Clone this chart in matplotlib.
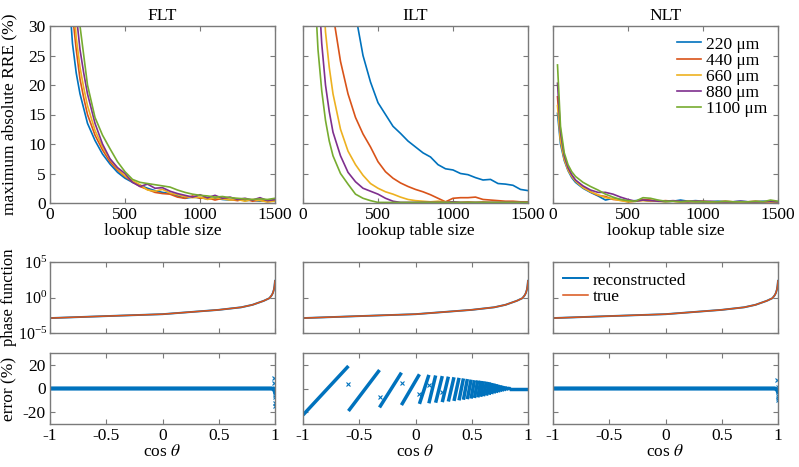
import matplotlib

matplotlib.use("Agg")
import matplotlib.pyplot as plt
import numpy as np

plt.rcParams["font.family"] = ["Liberation Serif", "DejaVu Serif"]
plt.rcParams["mathtext.fontset"] = "stix"
plt.rcParams["font.size"] = 12.5
plt.rcParams["axes.unicode_minus"] = False

COLORS = ["#0072BD", "#D95319", "#EDB120", "#7E2F8E", "#77AC30"]
THICKNESS = ["220 μm", "440 μm", "660 μm", "880 μm", "1100 μm"]
METHODS = ["FLT", "ILT", "NLT"]

# --- top row: maximum absolute RRE (%) vs lookup table size ---
FLT_SIZE = [100, 125, 150, 175, 200, 225, 250, 300, 350, 400, 450, 500, 550, 600,
            650, 700, 750, 800, 850, 900, 950, 1000, 1050, 1100, 1150, 1200,
            1250, 1300, 1350, 1400, 1450, 1500]
FLT_220 = [50, 36, 27, 22, 18.5, 16, 13.5, 10.6, 8.3, 6.6, 5.2, 4.2, 3.5, 3.0,
           2.5, 2.1, 1.8, 1.6, 1.2, 0.8, 1.0, 0.9, 0.7, 0.8, 0.6, 0.5,
           0.7, 0.4, 0.5, 0.3, 0.5, 0.3]
FLT_440 = [55, 42, 32, 26, 21, 17.8, 15, 11.5, 9.0, 7.0, 5.6, 4.5, 3.6, 2.8,
           2.3, 1.8, 1.6, 1.5, 1.0, 0.8, 1.2, 0.8, 0.9, 0.5, 0.8, 0.6,
           0.4, 0.7, 0.3, 0.5, 0.2, 0.4]
FLT_660 = [60, 46, 36, 28, 23, 19.5, 16.5, 12.3, 9.5, 7.4, 5.8, 4.6, 3.8, 3.1,
           2.2, 2.0, 2.3, 1.7, 1.4, 1.1, 0.9, 1.0, 0.6, 0.9, 0.7, 0.5,
           0.6, 0.3, 0.6, 0.4, 0.2, 0.3]
FLT_880 = [65, 50, 40, 32, 26, 22, 18.5, 13.5, 10.0, 7.5, 6.0, 5.0, 3.5, 2.8,
           3.2, 2.5, 2.6, 2.0, 1.6, 1.3, 1.0, 1.4, 0.9, 1.3, 0.8, 1.0,
           0.6, 0.8, 0.5, 0.9, 0.4, 0.6]
FLT_1100 = [75, 58, 45, 36, 30, 25, 20, 14.5, 11.5, 9.2, 7.0, 5.3, 4.0, 3.5,
            3.3, 3.1, 2.9, 2.7, 2.2, 1.8, 1.5, 1.3, 1.2, 1.0, 1.1, 0.9,
            0.8, 0.7, 0.6, 0.7, 0.6, 0.8]

ILT_SIZE = [50, 75, 100, 125, 150, 175, 200, 250, 300, 350, 400, 450, 500, 550, 600,
            650, 700, 750, 800, 850, 900, 950, 1000, 1050, 1100, 1150, 1200, 1250,
            1300, 1350, 1400, 1450, 1500]
ILT_220 = [400, 280, 200, 150, 120, 95, 80, 60, 45, 32, 25, 20.5, 17, 15, 13,
           11.8, 10.5, 9.5, 8.5, 7.8, 6.5, 5.8, 5.6, 5.0, 4.8, 4.3, 3.9, 4.0,
           3.3, 3.2, 3.0, 2.3, 2.1]
ILT_440 = [180, 120, 90, 65, 50, 40, 32, 24, 18.5, 14.5, 11.7, 9.5, 7.0, 5.3, 4.2,
           3.4, 2.8, 2.3, 1.9, 1.4, 0.8, 0.2, 0.8, 0.9, 0.9, 1.0, 0.6, 0.5,
           0.4, 0.3, 0.3, 0.2, 0.2]
ILT_660 = [110, 75, 55, 40, 29, 23, 18.5, 12.5, 8.8, 6.5, 4.7, 3.3, 2.5, 1.9, 1.5,
           1.0, 0.6, 0.4, 0.3, 0.2, 0.3, 0.2, 0.2, 0.1, 0.2, 0.1, 0.2, 0.1,
           0.1, 0.1, 0.1, 0.1, 0.1]
ILT_880 = [80, 52, 38, 27, 20, 15.5, 12, 8.0, 5.2, 3.6, 2.5, 2.0, 1.5, 0.8, 0.3,
           0.1, 0.1, 0.1, 0.1, 0.1, 0.1, 0.1, 0.2, 0.1, 0.1, 0.1, 0.1, 0.1,
           0.1, 0.1, 0.1, 0.1, 0.1]
ILT_1100 = [60, 38, 26, 19, 14, 10.5, 8.0, 5.0, 3.2, 1.5, 0.8, 0.4, 0.1, 0.1, 0.1,
            0.1, 0.1, 0.1, 0.1, 0.1, 0.1, 0.1, 0.1, 0.1, 0.1, 0.1, 0.1, 0.1,
            0.1, 0.1, 0.1, 0.1, 0.1]

NLT_SIZE = [30, 50, 75, 100, 125, 150, 200, 250, 300, 350, 400, 450, 500, 550,
            600, 650, 700, 750, 800, 850, 900, 950, 1000, 1050, 1100, 1150,
            1200, 1250, 1300, 1350, 1400, 1450, 1500]
NLT_220 = [15.2, 10, 7.2, 5.5, 4.3, 3.5, 2.5, 1.8, 1.2, 0.5, 0.8, 0.6, 0.3, 0.4,
           0.5, 0.3, 0.4, 0.2, 0.3, 0.5, 0.3, 0.4, 0.3, 0.2, 0.3, 0.2,
           0.2, 0.3, 0.2, 0.2, 0.3, 0.2, 0.2]
NLT_440 = [18, 11, 7.6, 5.8, 4.6, 3.8, 2.7, 1.9, 1.3, 1.1, 0.6, 0.5, 0.2, 0.3,
           0.6, 0.5, 0.3, 0.4, 0.3, 0.2, 0.3, 0.2, 0.3, 0.2, 0.2, 0.3,
           0.2, 0.2, 0.2, 0.3, 0.2, 0.2, 0.2]
NLT_660 = [16.5, 10.5, 7.4, 5.6, 4.5, 3.7, 2.6, 1.9, 1.4, 0.9, 0.7, 0.4, 0.2, 0.3,
           0.4, 0.3, 0.3, 0.2, 0.3, 0.2, 0.2, 0.3, 0.2, 0.2, 0.2, 0.2,
           0.2, 0.2, 0.2, 0.2, 0.2, 0.2, 0.2]
NLT_880 = [20.3, 12, 8.0, 6.0, 4.8, 3.9, 2.9, 2.2, 1.8, 1.8, 1.5, 1.0, 0.6, 0.3,
           0.5, 0.4, 0.3, 0.3, 0.4, 0.3, 0.2, 0.3, 0.2, 0.3, 0.2, 0.2,
           0.2, 0.3, 0.2, 0.2, 0.2, 0.3, 0.2]
NLT_1100 = [23.4, 13, 8.5, 6.5, 5.3, 4.5, 3.5, 2.8, 2.2, 1.5, 1.0, 0.6, 0.4, 0.3,
            0.9, 0.8, 0.5, 0.3, 0.3, 0.2, 0.3, 0.2, 0.2, 0.2, 0.2, 0.3,
            0.2, 0.2, 0.2, 0.3, 0.2, 0.5, 0.3]

RRE = {
    "FLT": (FLT_SIZE, [FLT_220, FLT_440, FLT_660, FLT_880, FLT_1100]),
    "ILT": (ILT_SIZE, [ILT_220, ILT_440, ILT_660, ILT_880, ILT_1100]),
    "NLT": (NLT_SIZE, [NLT_220, NLT_440, NLT_660, NLT_880, NLT_1100]),
}

# --- middle row: phase function (log10 values) ---
PHASE_COS = [-1, -0.5, 0, 0.5, 0.7, 0.8, 0.9, 0.95, 0.97, 0.98, 0.99, 0.995, 1.0]
PHASE_LOG10 = [-2.9, -2.62, -2.35, -1.74, -1.38, -1.03, -0.47, -0.1, 0.3, 0.6, 1.1, 1.6, 2.35]

# --- bottom row: error (%) ---
# FLT / NLT: flat at zero, scatter near cos = 1
FLAT_COS = [-1, 0.97, 0.985, 0.995, 1.0]
FLAT_ERR = [0, 0, -0.5, -1.5, -3]
FLT_OUT_COS = [0.995, 0.995, 0.997, 0.997, 0.998, 0.999, 1.0]
FLT_OUT_ERR = [8.5, 4.6, 0.4, -5.5, -7, -12, -14.5]
NLT_OUT_COS = [0.995, 0.997, 0.998, 0.999, 1.0]
NLT_OUT_ERR = [7, 1.5, -6, -8, -10]

# ILT: sawtooth, one tooth between consecutive edges, rising from low to high
ILT_EDGES = [-1, -0.596, -0.32, -0.125, 0.035, 0.119, 0.179, 0.238, 0.292, 0.342,
             0.387, 0.426, 0.461, 0.494, 0.524, 0.554, 0.580, 0.604, 0.631, 0.655,
             0.677, 0.698, 0.718, 0.737, 0.755, 0.772, 0.789, 0.805, 0.82, 0.835, 0.85]
ILT_LOW = [-22.4, -19, -16, -14, -13, -12.5, -12, -11.5, -11, -10.5,
           -10, -9.5, -9, -8.5, -8, -7.5, -7, -6.5, -6, -5.3,
           -4.7, -4.1, -3.6, -3.1, -2.6, -2.2, -1.8, -1.4, -1.1, -0.8]
ILT_HIGH = [19, 15.6, 13.4, 12, 11.5, 11, 10.5, 10, 9.5, 9,
            8.5, 8, 7.5, 7, 6.8, 6.5, 6.2, 5.8, 5.4, 4.8,
            4.3, 3.8, 3.3, 2.8, 2.4, 2.0, 1.6, 1.3, 1.0, 0.7]
ILT_OUT_COS = [-0.596, -0.32, -0.12, 0.035, 0.238, 0.12]
ILT_OUT_ERR = [3.8, -7, 4.4, -4.4, -3, 3]

SPINE = "#7a7a7a"
YLAB_X = -0.145


def style(ax):
    for s in ax.spines.values():
        s.set_color(SPINE)
        s.set_linewidth(1.0)
    ax.tick_params(direction="in", top=True, right=True, length=3.5,
                   color=SPINE, width=0.8, pad=3)


fig = plt.figure(figsize=(7.99, 4.67), dpi=100)
lefts = [50 / 799, 303 / 799, 553 / 799]
w = 225 / 799

for i, m in enumerate(METHODS):
    # top
    ax = fig.add_axes([lefts[i], 1 - 203 / 467, w, 177 / 467])
    size, series = RRE[m]
    for vals, c, lbl in zip(series, COLORS, THICKNESS):
        ax.plot(size, vals, color=c, lw=1.2, label=lbl)
    ax.set_xlim(0, 1500)
    ax.set_ylim(0, 30)
    ax.set_xticks([0, 500, 1000, 1500])
    ax.set_yticks([0, 5, 10, 15, 20, 25, 30])
    ax.set_title(m, fontsize=12.5, pad=4)
    ax.set_xlabel("lookup table size", labelpad=0)
    style(ax)
    if i == 0:
        ax.set_ylabel("maximum absolute RRE (%)")
        ax.yaxis.set_label_coords(YLAB_X, 0.5)
    else:
        ax.set_yticklabels([])
    if m == "NLT":
        ax.legend(loc="upper right", frameon=False, handlelength=1.4,
                  handletextpad=0.3, labelspacing=0.0, borderaxespad=0.2)

    # phase function
    ax = fig.add_axes([lefts[i], 1 - 333 / 467, w, 71 / 467])
    pv = 10.0 ** np.array(PHASE_LOG10)
    ax.plot(PHASE_COS, pv, color=COLORS[0], lw=1.4, label="reconstructed")
    ax.plot(PHASE_COS, pv, color=COLORS[1], lw=1.1, label="true")
    ax.set_yscale("log")
    ax.set_xlim(-1, 1)
    ax.set_ylim(1e-5, 1e5)
    ax.set_yticks([1e-5, 1e0, 1e5])
    ax.minorticks_off()
    ax.set_xticks([-1, -0.5, 0, 0.5, 1])
    ax.set_xticklabels([])
    style(ax)
    ax.tick_params(axis="y", labelsize=11.5, pad=2)
    if i == 0:
        ax.set_ylabel("phase function", fontsize=12)
        ax.yaxis.set_label_coords(YLAB_X, 0.5)
    else:
        ax.set_yticklabels([])
    if m == "NLT":
        ax.legend(loc="upper left", frameon=False, handlelength=1.4,
                  handletextpad=0.3, labelspacing=0.0, borderaxespad=0.2)

    # error
    ax = fig.add_axes([lefts[i], 1 - 424 / 467, w, 71 / 467])
    if m == "ILT":
        for k in range(len(ILT_LOW)):
            ax.plot(ILT_EDGES[k:k + 2], [ILT_LOW[k], ILT_HIGH[k]], color=COLORS[0],
                    lw=2.5, solid_capstyle="butt")
        ax.plot([ILT_EDGES[-1], 1.0], [0, 0], color=COLORS[0], lw=2.5)
        ax.plot(ILT_OUT_COS, ILT_OUT_ERR, "x", color=COLORS[0], ms=3, mew=0.8)
    else:
        ax.plot(FLAT_COS, FLAT_ERR, color=COLORS[0], lw=3.0)
        oc, oe = (FLT_OUT_COS, FLT_OUT_ERR) if m == "FLT" else (NLT_OUT_COS, NLT_OUT_ERR)
        ax.plot(oc, oe, "x", color=COLORS[0], ms=3, mew=0.8)
    ax.set_xlim(-1, 1)
    ax.set_ylim(-30, 30)
    ax.set_yticks([-20, 0, 20])
    ax.set_xticks([-1, -0.5, 0, 0.5, 1])
    ax.set_xticklabels(["-1", "-0.5", "0", "0.5", "1"])
    ax.set_xlabel(r"cos $\theta$", labelpad=0)
    style(ax)
    if i == 0:
        ax.set_ylabel("error (%)")
        ax.yaxis.set_label_coords(YLAB_X, 0.5)
    else:
        ax.set_yticklabels([])

fig.savefig("out.png", dpi=100)
